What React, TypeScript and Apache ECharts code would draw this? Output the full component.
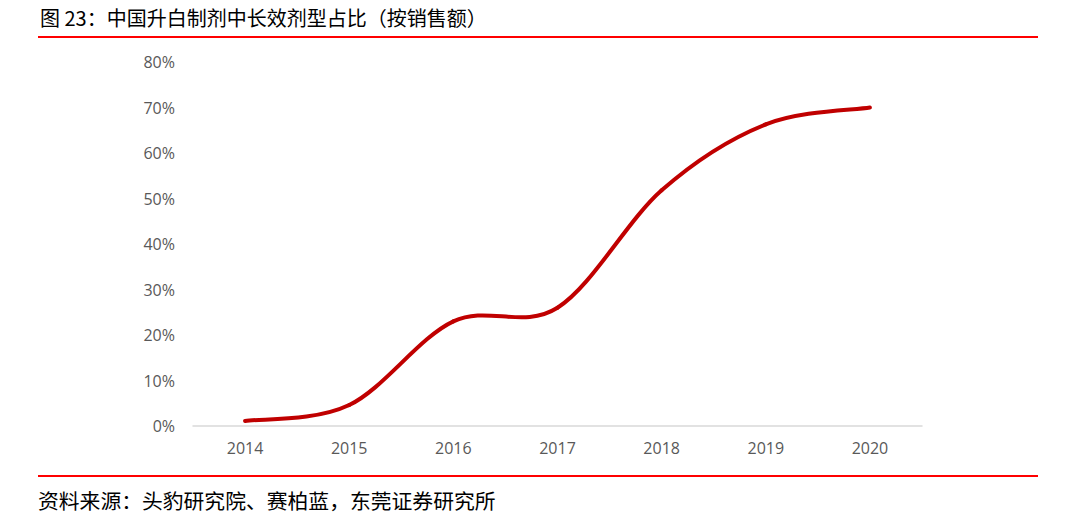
import React, { useEffect, useRef } from "react";
import * as echarts from "echarts";

const categories = ["2014", "2015", "2016", "2017", "2018", "2019", "2020"];
const shareValues = [1.1, 4.6, 23.0, 26.0, 51.8, 66.3, 70.0];
const yTicks = [0, 10, 20, 30, 40, 50, 60, 70, 80];

const titleText = "图 23：中国升白制剂中长效剂型占比（按销售额）";
const sourceText = "资料来源：头豹研究院、赛柏蓝，东莞证券研究所";

export default function App() {
  const ref = useRef<HTMLDivElement>(null);
  useEffect(() => {
    const chart = echarts.init(ref.current!, null, { renderer: "svg" });
    const renderItem = (params: any, api: any) => {
      const i = params.dataIndex;
      const n = shareValues.length;
      if (i >= n - 1) return null;
      const pt = (k: number) => {
        const kk = Math.max(0, Math.min(n - 1, k));
        return api.coord([kk, shareValues[kk]]);
      };
      const p0 = pt(i - 1);
      const p1 = pt(i);
      const p2 = pt(i + 1);
      const p3 = pt(i + 2);
      const c1 = [p1[0] + (p2[0] - p0[0]) / 6, p1[1] + (p2[1] - p0[1]) / 6];
      const c2 = [p2[0] - (p3[0] - p1[0]) / 6, p2[1] - (p3[1] - p1[1]) / 6];
      return {
        type: "bezierCurve",
        shape: {
          x1: p1[0], y1: p1[1],
          cpx1: c1[0], cpy1: c1[1],
          cpx2: c2[0], cpy2: c2[1],
          x2: p2[0], y2: p2[1],
        },
        style: { stroke: "#C00000", lineWidth: 4, fill: "none", lineCap: "round" },
      };
    };
    chart.setOption({
      animation: false,
      backgroundColor: "#ffffff",
      grid: { left: 193, right: 145, top: 62, bottom: 106 },
      xAxis: {
        type: "category",
        data: categories,
        boundaryGap: true,
        axisLine: { lineStyle: { color: "#d9d9d9", width: 1.5 } },
        axisTick: { show: false },
        axisLabel: {
          color: "#595959",
          fontSize: 16,
          margin: 14,
          fontFamily: "'Open Sans', 'Noto Sans', sans-serif",
        },
      },
      yAxis: {
        type: "value",
        min: yTicks[0],
        max: yTicks[yTicks.length - 1],
        interval: 10,
        splitLine: { show: false },
        axisLine: { show: false },
        axisTick: { show: false },
        axisLabel: {
          color: "#595959",
          fontSize: 16,
          margin: 18,
          formatter: (v: number) => v + "%",
          fontFamily: "'Open Sans', 'Noto Sans', sans-serif",
        },
      },
      series: [
        {
          type: "custom",
          renderItem,
          data: shareValues.map((v, i) => [i, v]),
          encode: { x: 0, y: 1 },
        },
      ],
      graphic: [
        {
          type: "text",
          left: 40,
          top: 7,
          style: {
            text: titleText,
            fontSize: 20,
            fill: "#000000",
            fontFamily: "'Noto Sans CJK SC', sans-serif",
          },
        },
        {
          type: "line",
          shape: { x1: 38, y1: 37, x2: 1038, y2: 37 },
          style: { stroke: "#FF0000", lineWidth: 2 },
        },
        {
          type: "line",
          shape: { x1: 38, y1: 476, x2: 1038, y2: 476 },
          style: { stroke: "#FF0000", lineWidth: 2 },
        },
        {
          type: "text",
          left: 38,
          top: 490,
          style: {
            text: sourceText,
            fontSize: 20.8,
            fill: "#000000",
            fontFamily: "'Noto Sans CJK SC', sans-serif",
          },
        },
      ],
    });
    return () => chart.dispose();
  }, []);
  return (
    <div
      ref={ref}
      style={{ width: 1067, height: 532, position: "absolute", left: 0, top: 0 }}
    />
  );
}
